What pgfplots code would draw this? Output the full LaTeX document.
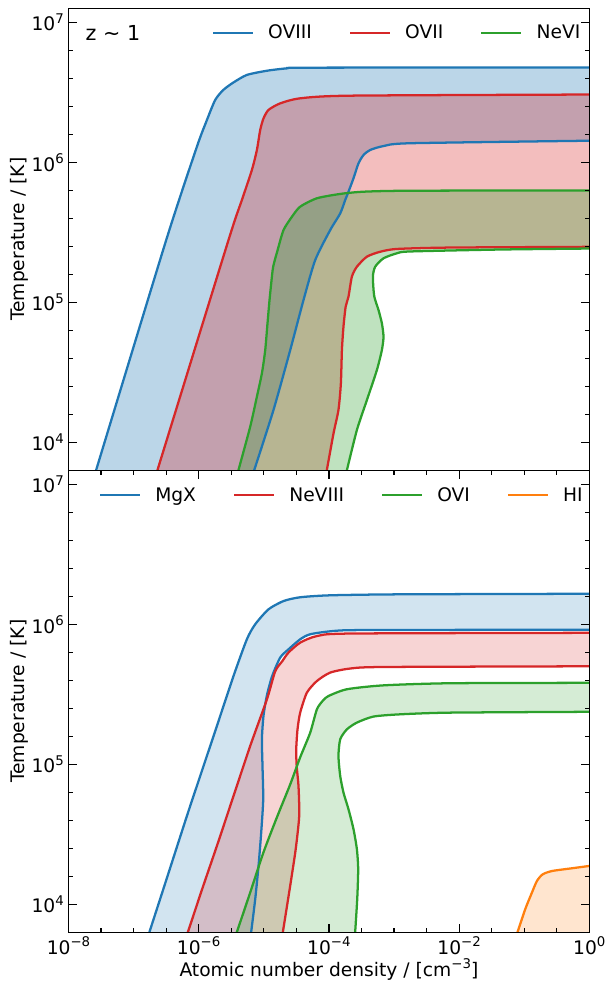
\documentclass[border=0pt]{standalone}
\usepackage{fontspec}
\setmainfont{DejaVu Sans}
\usepackage{pgfplots}
\pgfplotsset{compat=1.18}
\usepgfplotslibrary{fillbetween}

\definecolor{tabblue}{HTML}{1F77B4}
\definecolor{tabred}{HTML}{D62728}
\definecolor{tabgreen}{HTML}{2CA02C}
\definecolor{taborange}{HTML}{FF7F0E}

\newcommand\fs{\fontsize{14}{16.8}\selectfont}
\newcommand\pw[1]{10\raisebox{0.42em}{\fontsize{10}{10}\selectfont #1}}

\tikzset{bound/.style={line width=1.7pt, smooth, tension=0.4}}

\begin{document}
\begin{tikzpicture}

% ---------------- z ~ 1 : OVIII, OVII, NeVI ----------------
\begin{axis}[name=top, at={(0pt,346.5pt)}, anchor=south west,
  scale only axis, width=390.6pt, height=346.5pt,
  xmode=log, ymode=log,
  xmin=1e-8, xmax=1, ymin=6309.6, ymax=12589254,
  set layers, axis on top,
  tick align=inside,
  ytick pos=both,
  ytick={1e4,1e5,1e6,1e7},
  yticklabels={\pw{4},\pw{5},\pw{6},\pw{7}},
  minor ytick={1.585e4,2.512e4,3.981e4,6.310e4,1.585e5,2.512e5,3.981e5,6.310e5,1.585e6,2.512e6,3.981e6,6.310e6},
  xtick=\empty, xminorticks=false,
  major tick length=6.4pt, minor tick length=3.4pt,
  tick style={black, line width=0.9pt},
  axis line style={line width=0.9pt},
  tick label style={font=\fs},
  ylabel={Temperature / [K]},
  ylabel style={at={(axis description cs:-0.095,0.5)}, anchor=center, font=\fs},
  legend columns=-1,
  legend image code/.code={\draw[#1, line width=1.7pt] (0pt,0pt) -- (30pt,0pt);},
  legend style={draw=none, fill=none, inner sep=0pt, outer sep=0pt, font=\fs,
    anchor=west, at={(axis description cs:0.2755,0.9465)},
    nodes={inner sep=0pt},
    /tikz/every odd column/.append style={column sep=10.5pt},
    /tikz/every even column/.append style={column sep=27.75pt}}]

\addplot[tabblue, bound, name path=o8u] coordinates {(2.612e-8,6166) (3.170e-7,2.786e5) (9.376e-7,1.291e6) (1.337e-6,2.004e6) (1.791e-6,2.786e6) (2.377e-6,3.281e6) (3.388e-6,3.707e6) (5.495e-6,4.207e6) (1.117e-5,4.508e6) (2.265e-5,4.688e6) (5.164e-5,4.742e6) (1,4.753e6)};
\addlegendentry{OVIII}
\addplot[tabblue, bound, name path=o8l, forget plot] coordinates {(7.000e-6,6166) (1.409e-5,1.702e4) (2.547e-5,4.560e4) (4.074e-5,1.038e5) (6.166e-5,2.004e5) (1.047e-4,3.281e5) (1.493e-4,4.315e5) (1.782e-4,5.383e5) (2.000e-4,6.166e5) (2.388e-4,7.691e5) (2.851e-4,9.840e5) (3.404e-4,1.127e6) (4.305e-4,1.225e6) (6.902e-4,1.306e6) (1.774e-3,1.368e6) (1,1.426e6)};
\addplot[fill=tabblue, fill opacity=0.3, draw=none, forget plot] fill between[of=o8u and o8l];

\addplot[tabred, bound, name path=o7u] coordinates {(2.286e-7,6166) (2.871e-6,2.786e5) (4.613e-6,5.383e5) (6.561e-6,8.810e5) (7.834e-6,1.225e6) (8.810e-6,1.702e6) (9.886e-6,2.056e6) (1.180e-5,2.366e6) (1.786e-5,2.636e6) (3.622e-5,2.864e6) (2.123e-4,2.992e6) (1,3.048e6)};
\addlegendentry{OVII}
\addplot[tabred, bound, name path=o7l, forget plot] coordinates {(9.204e-5,6166) (1.178e-4,1.159e4) (1.403e-4,1.702e4) (1.528e-4,2.636e4) (1.585e-4,4.560e4) (1.675e-4,6.699e4) (1.811e-4,9.311e4) (2.000e-4,1.096e5) (2.254e-4,1.524e5) (2.692e-4,1.795e5) (3.837e-4,2.118e5) (6.138e-4,2.296e5) (1.107e-3,2.404e5) (7.295e-3,2.460e5) (1,2.489e5)};
\addplot[fill=tabred, fill opacity=0.3, draw=none, forget plot] fill between[of=o7u and o7l];

\addplot[tabgreen, bound, name path=n6u] coordinates {(4.018e-6,6166) (6.180e-6,1.291e4) (7.834e-6,2.118e4) (9.354e-6,3.112e4) (1.052e-5,4.560e4) (1.140e-5,7.079e4) (1.225e-5,1.038e5) (1.300e-5,1.368e5) (1.393e-5,1.795e5) (1.633e-5,2.366e5) (2.009e-5,3.281e5) (2.704e-5,4.083e5) (3.622e-5,4.819e5) (6.546e-5,5.534e5) (1.493e-4,5.943e5) (3.404e-4,6.166e5) (1.774e-3,6.266e5) (1,6.295e5)};
\addlegendentry{NeVI}
\addplot[tabgreen, bound, name path=n6l, forget plot] coordinates {(1.866e-4,6166) (2.692e-4,1.225e4) (3.837e-4,2.004e4) (5.458e-4,3.281e4) (6.516e-4,4.560e4) (6.902e-4,5.675e4) (6.516e-4,7.079e4) (5.781e-4,8.810e4) (4.966e-4,1.109e5) (4.742e-4,1.524e5) (5.140e-4,1.795e5) (6.902e-4,2.061e5) (1.107e-3,2.239e5) (1.774e-3,2.307e5) (4.276e-2,2.382e5) (1,2.421e5)};
\addplot[fill=tabgreen, fill opacity=0.3, draw=none, forget plot] fill between[of=n6u and n6l];

\node[anchor=west, font=\fontsize{15.5}{18}\selectfont] at (axis description cs:0.024,0.9465) {z ∼ 1};
\end{axis}

% ---------------- MgX, NeVIII, OVI, HI ----------------
\begin{axis}[name=bot, at={(0pt,0pt)}, anchor=south west,
  scale only axis, width=390.6pt, height=346.5pt,
  xmode=log, ymode=log,
  xmin=1e-8, xmax=1, ymin=6309.6, ymax=12589254,
  set layers, axis on top,
  tick align=inside,
  ytick pos=both, xtick pos=both,
  ytick={1e4,1e5,1e6,1e7},
  yticklabels={\pw{4},\pw{5},\pw{6},\pw{7}},
  minor ytick={1.585e4,2.512e4,3.981e4,6.310e4,1.585e5,2.512e5,3.981e5,6.310e5,1.585e6,2.512e6,3.981e6,6.310e6},
  xtick={1e-8,1e-6,1e-4,1e-2,1},
  xticklabels={\pw{−8},\pw{−6},\pw{−4},\pw{−2},\pw{0}},
  minor xtick={3.162e-8,1e-7,3.162e-7,3.162e-6,1e-5,3.162e-5,3.162e-4,1e-3,3.162e-3,3.162e-2,1e-1,3.162e-1},
  major tick length=6.4pt, minor tick length=3.4pt,
  tick style={black, line width=0.9pt},
  axis line style={line width=0.9pt},
  tick label style={font=\fs},
  ylabel={Temperature / [K]},
  ylabel style={at={(axis description cs:-0.095,0.5)}, anchor=center, font=\fs},
  xlabel={Atomic number density / [cm\raisebox{0.42em}{\fontsize{10}{10}\selectfont −3}]},
  xlabel style={at={(axis description cs:0.5,-0.081)}, anchor=center, font=\fs},
  legend columns=-1,
  legend image code/.code={\draw[#1, line width=1.7pt] (0pt,0pt) -- (30pt,0pt);},
  legend style={draw=none, fill=none, inner sep=0pt, outer sep=0pt, font=\fs,
    anchor=west, at={(axis description cs:0.0586,0.9459)},
    nodes={inner sep=0pt},
    /tikz/every odd column/.append style={column sep=10.5pt},
    /tikz/every even column/.append style={column sep=27.75pt}}]

\addplot[tabblue, bound, name path=mgu] coordinates {(1.718e-7,6166) (3.083e-7,1.429e4) (6.592e-7,4.276e4) (1.054e-6,8.241e4) (1.905e-6,1.879e5) (3.428e-6,4.276e5) (5.495e-6,7.816e5) (7.379e-6,1.000e6) (1.180e-5,1.279e6) (2.009e-5,1.466e6) (3.622e-5,1.560e6) (1.047e-4,1.611e6) (1.245e-3,1.637e6) (1,1.652e6)};
\addlegendentry{MgX}
\addplot[tabblue, bound, name path=mgl, forget plot] coordinates {(6.353e-6,6166) (7.379e-6,1.086e4) (8.299e-6,1.879e4) (9.120e-6,3.251e4) (9.795e-6,5.623e4) (9.550e-6,9.727e4) (9.354e-6,1.510e5) (9.886e-6,2.213e5) (1.117e-5,3.112e5) (1.346e-5,4.276e5) (1.786e-5,5.781e5) (2.393e-5,6.622e5) (3.622e-5,7.816e5) (5.164e-5,8.492e5) (1.164e-4,8.954e5) (3.837e-4,9.099e5) (1,9.141e5)};
\addplot[fill=tabblue, fill opacity=0.2, draw=none, forget plot] fill between[of=mgu and mgl];

\addplot[tabred, bound, name path=ne8u] coordinates {(6.699e-7,6166) (1.127e-6,1.279e4) (1.982e-6,2.761e4) (3.428e-6,5.943e4) (6.180e-6,1.352e5) (1.117e-5,2.911e5) (1.496e-5,4.613e5) (1.919e-5,5.445e5) (2.393e-5,6.281e5) (3.622e-5,7.396e5) (6.546e-5,8.241e5) (2.123e-4,8.590e5) (1,8.690e5)};
\addlegendentry{NeVIII}
\addplot[tabred, bound, name path=ne8l, forget plot] coordinates {(1.945e-5,6166) (2.541e-5,1.352e4) (3.090e-5,2.472e4) (3.499e-5,4.276e4) (3.412e-5,6.998e4) (3.199e-5,9.727e4) (3.148e-5,1.279e5) (3.296e-5,1.778e5) (3.622e-5,2.339e5) (4.592e-5,3.251e5) (6.546e-5,3.936e5) (1.047e-4,4.519e5) (2.123e-4,4.831e5) (6.902e-4,4.955e5) (1,5.012e5)};
\addplot[fill=tabred, fill opacity=0.2, draw=none, forget plot] fill between[of=ne8u and ne8l];

\addplot[tabgreen, bound, name path=o6u] coordinates {(3.784e-6,6166) (6.180e-6,1.213e4) (9.886e-6,2.350e4) (1.589e-5,4.178e4) (2.547e-5,7.194e4) (3.622e-5,1.122e5) (5.164e-5,1.683e5) (6.546e-5,2.472e5) (8.166e-5,2.864e5) (9.863e-5,3.076e5) (1.892e-4,3.436e5) (6.902e-4,3.664e5) (7.295e-3,3.793e5) (1,3.819e5)};
\addlegendentry{OVI}
\addplot[tabgreen, bound, name path=o6l, forget plot] coordinates {(2.523e-4,6166) (2.723e-4,1.086e4) (2.818e-4,1.778e4) (2.692e-4,2.472e4) (2.388e-4,3.436e4) (2.000e-4,4.775e4) (1.675e-4,6.281e4) (1.493e-4,8.241e4) (1.403e-4,1.146e5) (1.493e-4,1.510e5) (1.892e-4,1.778e5) (2.692e-4,1.986e5) (4.842e-4,2.193e5) (1.245e-3,2.275e5) (7.295e-3,2.339e5) (1,2.371e5)};
\addplot[fill=tabgreen, fill opacity=0.2, draw=none, forget plot] fill between[of=o6u and o6l];

\addplot[taborange, bound, name path=hiu] coordinates {(7.762e-2,6166) (1.035e-1,9204) (1.282e-1,1.178e4) (1.567e-1,1.466e4) (1.923e-1,1.637e4) (2.692e-1,1.730e4) (5.346e-1,1.807e4) (1,1.879e4)};
\addlegendentry{HI}
\addplot[draw=none, name path=hib, forget plot] coordinates {(7.0e-2,5000) (1,5000)};
\addplot[fill=taborange, fill opacity=0.2, draw=none, forget plot] fill between[of=hiu and hib];
\end{axis}

\pgfresetboundingbox
\path[use as bounding box] (-51.375pt,-38.025pt) rectangle (402.375pt,699.225pt);
\end{tikzpicture}
\end{document}
